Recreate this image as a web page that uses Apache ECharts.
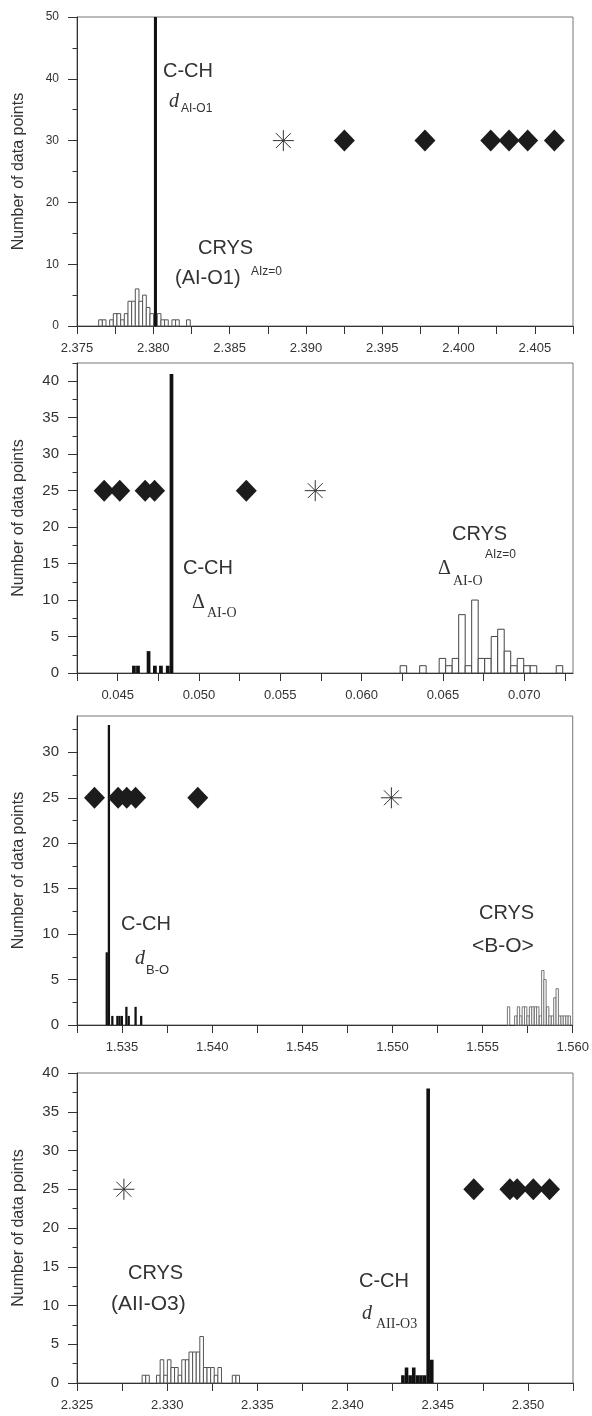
<!DOCTYPE html>
<html>
<head>
<meta charset="utf-8">
<script src="https://cdn.jsdelivr.net/npm/echarts@6/dist/echarts.min.js"></script>
<style>
  html, body { margin: 0; padding: 0; background: #fff; }
  #chart { width: 592px; height: 1416px; }
</style>
</head>
<body>
<div id="chart"></div>
<script>
'use strict';

// ---- panel 1 : d(AI-O1) ----
const xTicks1 = [2.375, 2.3775, 2.380, 2.3825, 2.385, 2.3875, 2.390, 2.3925, 2.395, 2.3975, 2.400, 2.4025, 2.405, 2.4075];
const xLabels1 = [2.375, 2.380, 2.385, 2.390, 2.395, 2.400, 2.405];
const yMajor1 = [0, 10, 20, 30, 40, 50];
const yMinor1 = [5, 15, 25, 35, 45];
const crys1X = [2.37654, 2.37678, 2.37726, 2.37750, 2.37774, 2.37798, 2.37822, 2.37846, 2.37870, 2.37894,
                2.37918, 2.37942, 2.37966, 2.37990, 2.38038, 2.38062, 2.38086, 2.38134, 2.38158, 2.38230];
const crys1N = [1, 1, 1, 2, 2, 1, 2, 4, 4, 6, 4, 5, 3, 2, 2, 1, 1, 1, 1, 1];
const cch1X = [2.38014];
const cch1N = [50];
const dia1X = [2.39252, 2.39780, 2.40211, 2.40331, 2.40453, 2.40628];
const ast1X = [2.38852];

// ---- panel 2 : Delta(AI-O) ----
const xTicks2 = [0.0425, 0.045, 0.0475, 0.050, 0.0525, 0.055, 0.0575, 0.060, 0.0625, 0.065, 0.0675, 0.070, 0.0725];
const xLabels2 = [0.045, 0.050, 0.055, 0.060, 0.065, 0.070];
const yMajor2 = [0, 5, 10, 15, 20, 25, 30, 35, 40];
const yMinor2 = [2.5, 7.5, 12.5, 17.5, 22.5, 27.5, 32.5, 37.5, 42.5];
const cch2X = [0.04600, 0.04625, 0.04690, 0.04729, 0.04766, 0.04808, 0.04831];
const cch2N = [1, 1, 3, 1, 1, 1, 41];
const crys2X = [0.06257, 0.06377, 0.06497, 0.06537, 0.06577, 0.06617, 0.06657, 0.06697, 0.06737,
                0.06777, 0.06817, 0.06857, 0.06897, 0.06937, 0.06977, 0.07017, 0.07057, 0.07217];
const crys2N = [1, 1, 2, 1, 2, 8, 1, 10, 2, 2, 5, 6, 3, 1, 2, 1, 1, 1];
const dia2X = [0.04417, 0.04513, 0.04669, 0.04727, 0.05291];
const ast2X = [0.05715];

// ---- panel 3 : d(B-O) ----
const xTicks3 = [1.5325, 1.535, 1.5375, 1.540, 1.5425, 1.545, 1.5475, 1.550, 1.5525, 1.555, 1.5575, 1.560];
const xLabels3 = [1.535, 1.540, 1.545, 1.550, 1.555, 1.560];
const yMajor3 = [0, 5, 10, 15, 20, 25, 30];
const yMinor3 = [2.5, 7.5, 12.5, 17.5, 22.5, 27.5, 32.5];
const cch3X = [1.53415, 1.53427, 1.53446, 1.53474, 1.53486, 1.53499, 1.53524, 1.53537, 1.53575, 1.53606];
const cch3N = [8, 33, 1, 1, 1, 1, 2, 1, 2, 1];
const crys3X = [1.55644, 1.55684, 1.55699, 1.55712, 1.55726, 1.55739, 1.55752, 1.55766, 1.55779, 1.55794,
                1.55806, 1.55821, 1.55834, 1.55846, 1.55861, 1.55874, 1.55888, 1.55901, 1.55914, 1.55928,
                1.55941, 1.55954, 1.55968, 1.55981];
const crys3N = [2, 1, 2, 1, 2, 2, 1, 2, 2, 2, 2, 1, 6, 5, 2, 1, 1, 3, 4, 1, 1, 1, 1, 1];
const dia3X = [1.53347, 1.53478, 1.53526, 1.53575, 1.53920];
const ast3X = [1.54994];

// ---- panel 4 : d(AII-O3) ----
const xTicks4 = [2.325, 2.3275, 2.330, 2.3325, 2.335, 2.3375, 2.340, 2.3425, 2.345, 2.3475, 2.350, 2.3525];
const xLabels4 = [2.325, 2.330, 2.335, 2.340, 2.345, 2.350];
const yMajor4 = [0, 5, 10, 15, 20, 25, 30, 35, 40];
const yMinor4 = [2.5, 7.5, 12.5, 17.5, 22.5, 27.5, 32.5, 37.5];
const crys4X = [2.32871, 2.32891, 2.32951, 2.32971, 2.32991, 2.33011, 2.33031, 2.33051, 2.33071, 2.33091, 2.33111,
                2.33131, 2.33151, 2.33171, 2.33191, 2.33211, 2.33231, 2.33251, 2.33271, 2.33291, 2.33371, 2.33391];
const crys4N = [1, 1, 1, 3, 1, 3, 2, 2, 1, 3, 3, 4, 4, 4, 6, 2, 2, 2, 1, 2, 1, 1];
const cch4X = [2.34307, 2.34327, 2.34347, 2.34367, 2.34387, 2.34407, 2.34427, 2.34447, 2.34467];
const cch4N = [1, 2, 1, 2, 1, 1, 1, 38, 3];
const dia4X = [2.3470, 2.3490, 2.3494, 2.3503, 2.3512];
const ast4X = [2.3276];

const SANS = '"Liberation Sans", Arial, sans-serif';
const SERIF = '"Liberation Serif", "Times New Roman", serif';
const INK = '#333';

const panels = [
    {top: 17,   h: 309, xMin: 2.375,  xMax: 2.4075, xTicks: xTicks1, xLabels: xLabels1, yMax: 50,   yMajor: yMajor1, yMinor: yMinor1,
     crysX: crys1X, crysN: crys1N, crysHalf: 0.00012,  crysLine: '#555', cchX: cch1X, cchN: cch1N, cchHalf: 0.0001,
     diaX: dia1X, astX: ast1X, markY: 30, yFont: 12},
    {top: 363,  h: 310, xMin: 0.0425, xMax: 0.073,  xTicks: xTicks2, xLabels: xLabels2, yMax: 42.5, yMajor: yMajor2, yMinor: yMinor2,
     crysX: crys2X, crysN: crys2N, crysHalf: 0.0002,   crysLine: '#444', cchX: cch2X, cchN: cch2N, cchHalf: 0.000115,
     diaX: dia2X, astX: ast2X, markY: 25, yFont: 15},
    {top: 716,  h: 309, xMin: 1.5325, xMax: 1.560,  xTicks: xTicks3, xLabels: xLabels3, yMax: 34,   yMajor: yMajor3, yMinor: yMinor3,
     crysX: crys3X, crysN: crys3N, crysHalf: 0.000065, crysLine: '#777', cchX: cch3X, cchN: cch3N, cchHalf: 0.000063,
     diaX: dia3X, astX: ast3X, markY: 25, yFont: 15},
    {top: 1073, h: 310, xMin: 2.325,  xMax: 2.3525, xTicks: xTicks4, xLabels: xLabels4, yMax: 40,   yMajor: yMajor4, yMinor: yMinor4,
     crysX: crys4X, crysN: crys4N, crysHalf: 0.0001,   crysLine: '#555', cchX: cch4X, cchN: cch4N, cchHalf: 0.0001,
     diaX: dia4X, astX: ast4X, markY: 25, yFont: 15}
];

// 直方图的柱子：中心值 ± 半宽，高度为计数
function binRect(half, fill, stroke) {
    return function (params, api) {
        let a = api.coord([api.value(0) - half, api.value(1)]);
        let b = api.coord([api.value(0) + half, 0]);
        return {
            type: 'rect',
            shape: {x: a[0], y: a[1], width: b[0] - a[0], height: b[1] - a[1]},
            style: {fill: fill, stroke: stroke, lineWidth: stroke === 'none' ? 0 : 1}
        };
    };
}

function pairs(xs, ns) {
    return xs.map(function (x, i) { return [x, ns[i]]; });
}

const ASTERISK = 'path://M10 0V20M0 10H20M2.9 2.9L17.1 17.1M2.9 17.1L17.1 2.9';

let grid = [], xAxis = [], yAxis = [], series = [];

panels.forEach(function (p, i) {
    grid.push({left: 77, top: p.top, width: 496, height: p.h, show: true,
               borderColor: '#777', borderWidth: 1, backgroundColor: 'transparent'});

    xAxis.push({
        type: 'value', gridIndex: i, min: p.xMin, max: p.xMax,
        axisLine: {show: true, onZero: false, lineStyle: {color: INK, width: 1}},
        axisTick: {show: true, customValues: p.xTicks, length: 8, lineStyle: {color: INK}},
        axisLabel: {customValues: p.xLabels, margin: 16, color: INK, fontSize: 13, fontFamily: SANS,
                    formatter: function (v) { return v.toFixed(3); }},
        splitLine: {show: false}
    });

    // 主刻度 + 标签
    yAxis.push({
        type: 'value', gridIndex: i, min: 0, max: p.yMax, position: 'left',
        axisLine: {show: true, lineStyle: {color: INK, width: 1}},
        axisTick: {show: true, customValues: p.yMajor, length: 9, lineStyle: {color: INK}},
        axisLabel: {customValues: p.yMajor, margin: 18, color: INK, fontSize: p.yFont, fontFamily: SANS},
        splitLine: {show: false},
        name: 'Number of data points', nameLocation: 'middle', nameGap: 50,
        nameTextStyle: {color: INK, fontSize: 16, fontFamily: SANS}
    });
    // 次刻度
    yAxis.push({
        type: 'value', gridIndex: i, min: 0, max: p.yMax, position: 'left',
        axisLine: {show: false},
        axisTick: {show: true, customValues: p.yMinor, length: 4.5, lineStyle: {color: INK}},
        axisLabel: {show: false},
        splitLine: {show: false}
    });

    series.push({
        type: 'custom', xAxisIndex: i, yAxisIndex: 2 * i, z: 2,
        renderItem: binRect(p.crysHalf, '#fff', p.crysLine),
        encode: {x: 0, y: 1},
        data: pairs(p.crysX, p.crysN)
    });
    series.push({
        type: 'custom', xAxisIndex: i, yAxisIndex: 2 * i, z: 3,
        renderItem: binRect(p.cchHalf, '#111', 'none'),
        encode: {x: 0, y: 1},
        data: pairs(p.cchX, p.cchN)
    });
    series.push({
        type: 'scatter', xAxisIndex: i, yAxisIndex: 2 * i, z: 4,
        symbol: 'diamond', symbolSize: [21, 22],
        itemStyle: {color: '#1c1c1c', opacity: 1},
        data: p.diaX.map(function (x) { return [x, p.markY]; })
    });
    series.push({
        type: 'scatter', xAxisIndex: i, yAxisIndex: 2 * i, z: 4,
        symbol: ASTERISK, symbolSize: 21,
        itemStyle: {color: 'rgba(0,0,0,0)', borderColor: '#333', borderWidth: 1, opacity: 1},
        data: p.astX.map(function (x) { return [x, p.markY]; })
    });
});

// 注释文字: [left, top, text, font]
const F_BIG = '20px ' + SANS;
const F_SUB = '12px ' + SANS;
const F_D = 'italic 20px ' + SERIF;
const F_DELTA = '20px ' + SERIF;
const F_SUBSERIF = '14px ' + SERIF;
const notes = [
    [163, 61, 'C-CH', F_BIG],
    [169, 92, 'd', F_D],
    [181, 103, 'AI-O1', F_SUB],
    [198, 238, 'CRYS', F_BIG],
    [175, 268, '(AI-O1)', F_BIG],
    [251, 266, 'AIz=0', F_SUB],

    [183, 558, 'C-CH', F_BIG],
    [192, 593, 'Δ', F_DELTA],
    [207, 606, 'AI-O', F_SUBSERIF],
    [452, 524, 'CRYS', F_BIG],
    [485, 549, 'AIz=0', F_SUB],
    [438, 559, 'Δ', F_DELTA],
    [453, 574, 'AI-O', F_SUBSERIF],

    [121, 914, 'C-CH', F_BIG],
    [135, 949, 'd', F_D],
    [146, 964, 'B-O', '13px ' + SANS],
    [479, 903, 'CRYS', F_BIG],
    [472, 936, '<B-O>', '21px ' + SANS],

    [128, 1263, 'CRYS', F_BIG],
    [111, 1294, '(AII-O3)', '21px ' + SANS],
    [359, 1271, 'C-CH', F_BIG],
    [362, 1304, 'd', F_D],
    [376, 1317, 'AII-O3', F_SUBSERIF]
];

let myChart = echarts.init(document.getElementById('chart'));
myChart.setOption({
    animation: false,
    backgroundColor: '#fff',
    grid: grid,
    xAxis: xAxis,
    yAxis: yAxis,
    series: series,
    graphic: notes.map(function (n) {
        return {type: 'text', left: n[0], top: n[1], z: 10,
                style: {text: n[2], font: n[3], fill: INK}};
    })
});
</script>
</body>
</html>
